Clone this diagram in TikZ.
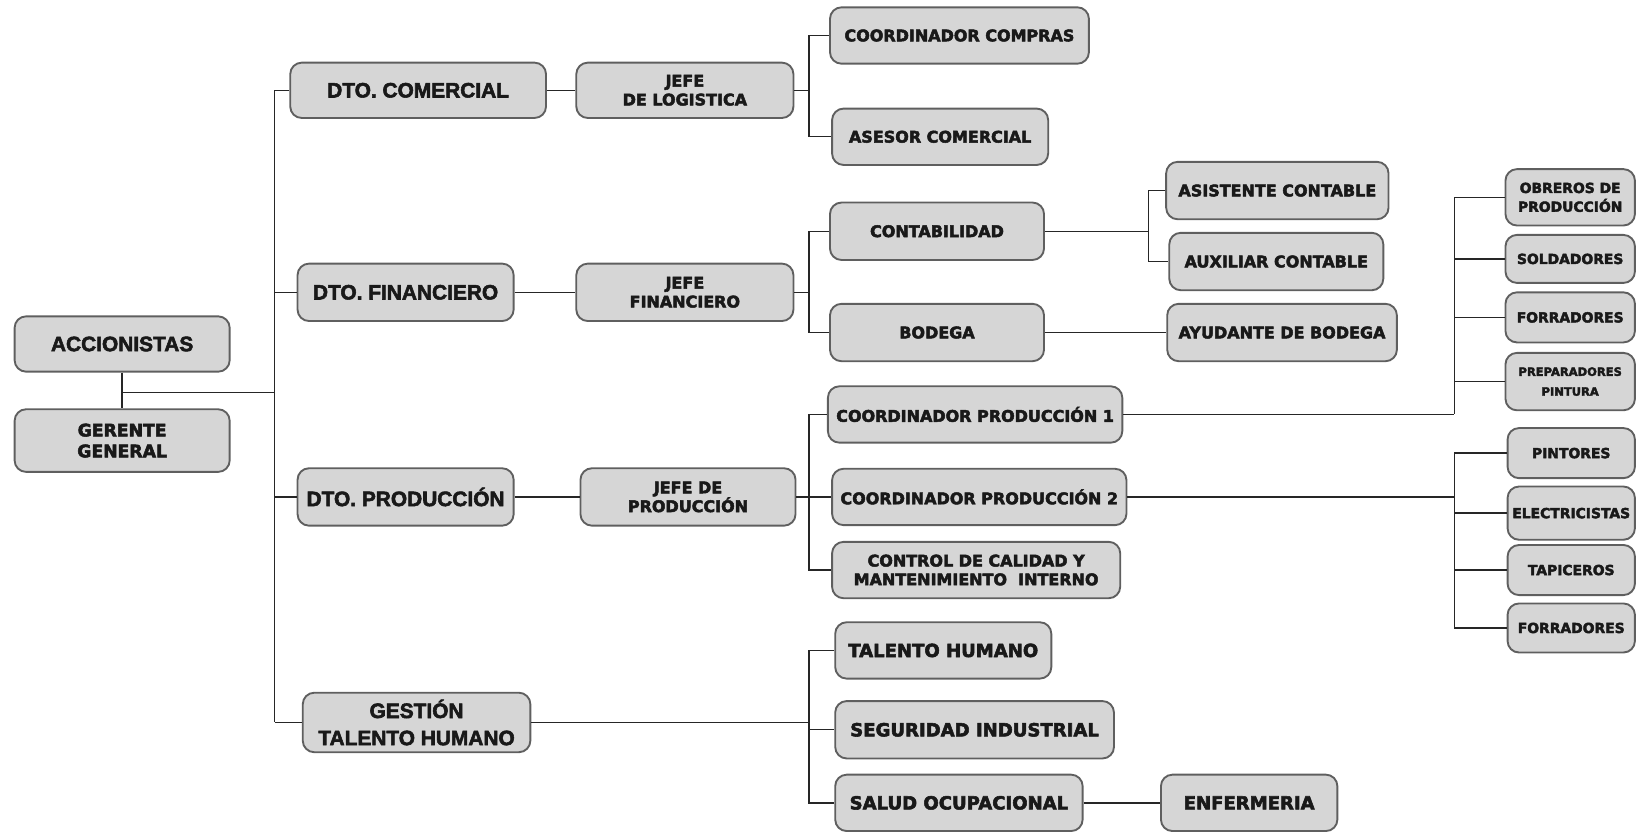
\documentclass[tikz,border=0pt]{standalone}
\usepackage{fontspec}
\setmainfont{Liberation Sans}[BoldFont={Liberation Sans Bold}, BoldFeatures={FakeBold=2.6}]
\newfontfamily\widefont{DejaVu Sans}[BoldFont={DejaVu Sans Bold}, BoldFeatures={FakeBold=3}]
\usepackage{tikz}
\definecolor{boxgray}{RGB}{214,214,214}
\definecolor{edgegray}{RGB}{95,95,95}
\begin{document}
\begin{tikzpicture}[x=1pt,y=1pt]
\tikzstyle{every node}+=[inner sep=0pt]
\tikzstyle{box}=[draw=edgegray, fill=boxgray, line width=1.8pt, rounded corners=11pt, align=center, text=black!90]
\tikzstyle{big}=[font=\bfseries\fontsize{20}{26}\selectfont]
\tikzstyle{ger}=[font=\widefont\bfseries\fontsize{16.5}{20}\selectfont]
\tikzstyle{mid}=[font=\widefont\bfseries\fontsize{15.3}{18}\selectfont]
\tikzstyle{sml}=[font=\widefont\bfseries\fontsize{13.3}{18}\selectfont]
\tikzstyle{tny}=[font=\widefont\bfseries\fontsize{11}{19}\selectfont]
\tikzstyle{hum}=[font=\widefont\bfseries\fontsize{17.3}{20}\selectfont]
\tikzstyle{wire}=[black!85, line width=1.3pt]
\useasboundingbox (0,0) rectangle (1568,-796);
\node [box, big, minimum width=206, minimum height=53] (acc) at (117,-329.5) {ACCIONISTAS};
\node [box, ger, minimum width=206, minimum height=60] (ger) at (117,-422) {GERENTE\\GENERAL};
\node [box, big, minimum width=245, minimum height=53] (com) at (400.5,-86.5) {DTO. COMERCIAL};
\node [box, big, minimum width=207, minimum height=55] (fin) at (388.5,-280) {DTO. FINANCIERO};
\node [box, big, minimum width=207, minimum height=55] (pro) at (388.5,-476) {DTO. PRODUCCIÓN};
\node [box, big, minimum width=218, minimum height=57] (gth) at (399,-692) {GESTIÓN\\TALENTO HUMANO};
\node [box, mid, minimum width=208, minimum height=53] (jlog) at (656,-86.5) {JEFE\\DE LOGISTICA};
\node [box, mid, minimum width=208, minimum height=55] (jfin) at (656,-280) {JEFE\\FINANCIERO};
\node [box, mid, minimum width=206, minimum height=55] (jpro) at (659,-476) {JEFE DE\\PRODUCCIÓN};
\node [box, mid, minimum width=248, minimum height=54] (ccom) at (919,-34) {COORDINADOR COMPRAS};
\node [box, mid, minimum width=207, minimum height=54] (ases) at (900.5,-131) {ASESOR COMERCIAL};
\node [box, mid, minimum width=205, minimum height=55] (cont) at (897.5,-221.5) {CONTABILIDAD};
\node [box, mid, minimum width=205, minimum height=55] (bod) at (897.5,-318.5) {BODEGA};
\node [box, mid, minimum width=213, minimum height=55] (asis) at (1223.5,-182.5) {ASISTENTE CONTABLE};
\node [box, mid, minimum width=205, minimum height=55] (aux) at (1222.5,-250.5) {AUXILIAR CONTABLE};
\node [box, mid, minimum width=220, minimum height=55] (ayud) at (1228,-318.5) {AYUDANTE DE BODEGA};
\node [box, mid, minimum width=282, minimum height=54] (cp1) at (934,-397) {COORDINADOR PRODUCCIÓN 1};
\node [box, mid, minimum width=282, minimum height=54] (cp2) at (938,-476) {COORDINADOR PRODUCCIÓN 2};
\node [box, mid, minimum width=276, minimum height=54] (ccal) at (935,-546) {CONTROL DE CALIDAD Y\\MANTENIMIENTO \ INTERNO};
\node [box, sml, minimum width=124, minimum height=54] (obr) at (1504,-189) {OBREROS DE\\PRODUCCIÓN};
\node [box, sml, minimum width=124, minimum height=46] (sold) at (1504,-248) {SOLDADORES};
\node [box, sml, minimum width=124, minimum height=48] (forr1) at (1504,-304) {FORRADORES};
\node [box, tny, minimum width=124, minimum height=55] (prep) at (1504,-365.5) {PREPARADORES\\PINTURA};
\node [box, sml, minimum width=122, minimum height=48] (pint) at (1505,-434) {PINTORES};
\node [box, sml, minimum width=122, minimum height=51] (elec) at (1505,-491.5) {ELECTRICISTAS};
\node [box, sml, minimum width=122, minimum height=48] (tapi) at (1505,-546) {TAPICEROS};
\node [box, sml, minimum width=122, minimum height=47] (forr2) at (1505,-601.5) {FORRADORES};
\node [box, hum, minimum width=207, minimum height=54] (tal) at (903.5,-623) {TALENTO HUMANO};
\node [box, hum, minimum width=267, minimum height=55] (seg) at (933.5,-699) {SEGURIDAD INDUSTRIAL};
\node [box, hum, minimum width=237, minimum height=54] (sal) at (918.5,-769) {SALUD OCUPACIONAL};
\node [box, hum, minimum width=169, minimum height=54] (enf) at (1196.5,-769) {ENFERMERIA};
\coordinate (t) at (263,-376);
\coordinate (kl) at (775,-86.5);
\coordinate (kf) at (775,-280);
\coordinate (kc) at (1100,-221.5);
\coordinate (kp) at (775,-476);
\coordinate (ko) at (1393,-397);
\coordinate (kq) at (1393,-476);
\coordinate (kg) at (775,-692);
\begin{scope}[wire]
\draw (acc.south) -- (ger.north);
\draw (acc.south |- t) -- (t);
\draw (t |- com) -- (t |- gth);
\foreach \n in {com,fin,pro,gth} \draw (t |- \n) -- (\n.west);
\draw (com.east) -- (jlog.west);
\draw (fin.east) -- (jfin.west);
\draw (pro.east) -- (jpro.west);
\draw (jlog.east) -- (kl);
\draw (ccom.west) -| (kl) |- (ases.west);
\draw (jfin.east) -- (kf);
\draw (cont.west) -| (kf) |- (bod.west);
\draw (cont.east) -- (kc);
\draw (asis.west) -| (kc) |- (aux.west);
\draw (bod.east) -- (ayud.west);
\draw (jpro.east) -- (kp);
\draw (cp1.west) -| (kp) |- (ccal.west);
\draw (kp) -- (cp2.west);
\draw (cp1.east) -- (ko);
\draw (obr.west) -| (ko);
\foreach \n in {sold,forr1,prep} \draw (ko |- \n) -- (\n.west);
\draw (cp2.east) -- (kq);
\draw (pint.west) -| (kq) |- (forr2.west);
\foreach \n in {elec,tapi} \draw (kq |- \n) -- (\n.west);
\draw (gth.east) -- (kg);
\draw (tal.west) -| (kg) |- (sal.west);
\draw (kg |- seg) -- (seg.west);
\draw (sal.east) -- (enf.west);
\end{scope}
\end{tikzpicture}
\end{document}
